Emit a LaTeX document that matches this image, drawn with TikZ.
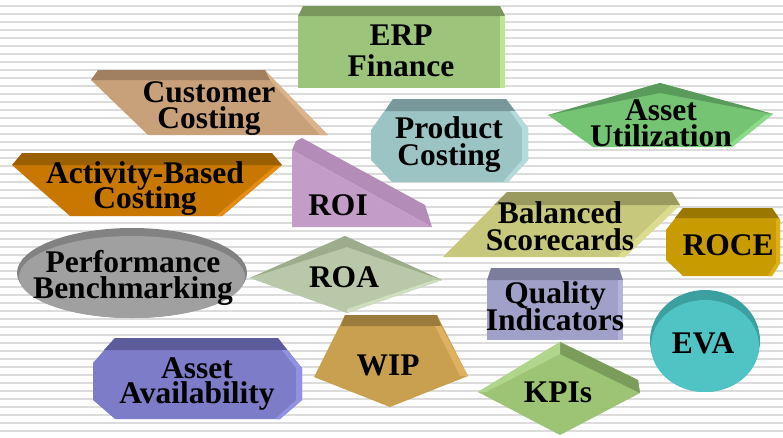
\documentclass[tikz,border=0pt]{standalone}
\usepackage{fontspec}
\setmainfont{Liberation Serif}
\newcommand\twol[3]{\vtop{\baselineskip=#1\lineskiplimit=-100pt\lineskip=0pt\halign{\hfil##\hfil\cr#2\cr#3\cr}}}
\definecolor{stripe}{RGB}{220,220,220}
\definecolor{erpF}{RGB}{156,196,122}\definecolor{erpT}{RGB}{122,152,94}\definecolor{erpL}{RGB}{190,228,150}
\definecolor{cusF}{RGB}{200,160,122}\definecolor{cusT}{RGB}{160,128,96}\definecolor{cusL}{RGB}{218,180,140}
\definecolor{actF}{RGB}{200,120,0}\definecolor{actT}{RGB}{154,96,0}\definecolor{actL}{RGB}{228,140,20}
\definecolor{proF}{RGB}{156,196,196}\definecolor{proT}{RGB}{120,152,156}\definecolor{proL}{RGB}{180,218,218}
\definecolor{utiF}{RGB}{116,196,116}\definecolor{utiT}{RGB}{90,154,90}\definecolor{utiL}{RGB}{140,218,140}
\definecolor{roiF}{RGB}{196,156,200}\definecolor{roiT}{RGB}{180,140,184}
\definecolor{balF}{RGB}{200,200,124}\definecolor{balT}{RGB}{154,154,94}\definecolor{balL}{RGB}{220,220,144}
\definecolor{rocF}{RGB}{200,156,0}\definecolor{rocT}{RGB}{154,120,0}\definecolor{rocL}{RGB}{222,176,20}
\definecolor{perF}{RGB}{160,160,160}\definecolor{perT}{RGB}{130,130,130}
\definecolor{roaF}{RGB}{184,200,168}\definecolor{roaT}{RGB}{156,172,140}\definecolor{roaL}{RGB}{206,222,190}
\definecolor{quaF}{RGB}{160,160,200}\definecolor{quaT}{RGB}{124,124,156}\definecolor{quaL}{RGB}{180,180,222}
\definecolor{evaF}{RGB}{80,196,196}\definecolor{evaT}{RGB}{60,160,160}
\definecolor{kpiF}{RGB}{156,196,116}\definecolor{kpiT}{RGB}{124,156,92}\definecolor{kpiL}{RGB}{176,214,140}
\definecolor{wipF}{RGB}{200,160,80}\definecolor{wipT}{RGB}{156,124,60}\definecolor{wipL}{RGB}{222,178,96}
\definecolor{avaF}{RGB}{124,124,200}\definecolor{avaT}{RGB}{92,92,156}\definecolor{avaL}{RGB}{146,146,226}
\begin{document}
\begin{tikzpicture}[x=1pt,y=-1pt,
  lbl/.style={font=\fontsize{31.5}{32}\selectfont\bfseries, inner sep=0pt, anchor=base, text=black}]
\clip (0,0) rectangle (783,437);
\fill[white] (0,0) rectangle (783,437);
\foreach \i in {0,...,54} \draw[line width=2pt, stripe] (0,{6+8.02*\i}) -- (783,{6+8.02*\i});

% ERP Finance
\fill[erpF] (298,16) rectangle (505,88);
\fill[erpT] (298,16) -- (303,6) -- (500,6) -- (505,16) -- cycle;
\fill[erpL] (500,16) -- (505,16) -- (505,88) -- (500,88) -- cycle;
\node[lbl] (erp) at (401,45) {\twol{31pt}{ERP}{Finance}};

% Customer Costing
\fill[cusF] (91,80) -- (272,80) -- (328,135) -- (148,135) -- cycle;
\fill[cusT] (98,70) -- (265,70) -- (272,80) -- (91,80) -- cycle;
\fill[cusL] (265,70) -- (328,135) -- (320,135) -- (270,80) -- cycle;
\node[lbl] (cus) at (209,102) {\twol{26pt}{Customer}{Costing}};

% Activity-Based Costing
\fill[actF] (12,165) -- (282,165) -- (222,216) -- (70,216) -- cycle;
\fill[actT] (22,153) -- (272,153) -- (282,165) -- (12,165) -- cycle;
\fill[actL] (282,165) -- (222,216) -- (216,216) -- (274,167) -- cycle;
\node[lbl] (act) at (145,183) {\twol{25pt}{Activity-Based}{Costing}};

% Product Costing
\fill[proF] (393,99) -- (506,99) -- (528,128) -- (528,160) -- (508,182) -- (392,182) -- (371,160) -- (371,130) -- cycle;
\fill[proT] (393,99) -- (506,99) -- (515,111) -- (385,111) -- cycle;
\fill[proL] (515,111) -- (528,128) -- (528,160) -- (508,182) -- (503,182) -- (522,160) -- (522,128) -- (510,111) -- cycle;
\node[lbl] (pro) at (449,138) {\twol{27pt}{Product}{Costing}};

% Asset Utilization
\fill[utiF] (548,115) -- (660,83) -- (773,114) -- (732,147) -- (593,147) -- cycle;
\fill[utiT] (548,115) -- (660,83) -- (773,114) -- (660,93) -- cycle;
\fill[utiL] (773,114) -- (732,147) -- (726,147) -- (765,115) -- cycle;
\node[lbl] (uti) at (661,120) {\twol{26pt}{Asset}{Utilization}};

% ROI
\fill[roiT] (292,150) -- (296,141) -- (302,138) -- (425,205) -- (432,227) -- cycle;
\fill[roiF] (292,150) -- (432,227) -- (292,227) -- cycle;
\node[lbl] (roi) at (338,215) {ROI};

% Balanced Scorecards
\fill[balF] (443,257) -- (507,192) -- (672,192) -- (680,205) -- (625,257) -- cycle;
\fill[balT] (494,205) -- (507,192) -- (672,192) -- (680,205) -- cycle;
\fill[balL] (680,205) -- (625,257) -- (617,257) -- (671,205) -- cycle;
\node[lbl] (bal) at (560,223) {\twol{27pt}{Balanced}{Scorecards}};

% ROCE
\fill[rocF] (683,208) -- (772,208) -- (780,220) -- (780,263) -- (772,276) -- (683,276) -- (666,260) -- (666,230) -- cycle;
\fill[rocT] (683,208) -- (772,208) -- (779,218) -- (675,218) -- cycle;
\fill[rocL] (779,218) -- (780,220) -- (780,263) -- (772,276) -- (768,276) -- (776,263) -- (776,220) -- cycle;
\node[lbl] (roc) at (728,255) {ROCE};

% Performance Benchmarking
\fill[perT] (132,273) ellipse [x radius=115pt, y radius=45pt];
\fill[perF] (132,277) ellipse [x radius=113pt, y radius=41pt];
\node[lbl] (per) at (133,272) {\twol{26pt}{Performance}{Benchmarking}};

% ROA
\fill[roaF] (250,278) -- (345,236) -- (442,280) -- (347,313) -- cycle;
\fill[roaT] (250,278) -- (345,236) -- (442,280) -- (347,247) -- cycle;
\fill[roaL] (442,280) -- (347,313) -- (347,309) -- (434,280) -- cycle;
\node[lbl] (roa) at (344,287) {ROA};

% Quality Indicators
\fill[quaF] (487,280) rectangle (623,340);
\fill[quaT] (487,280) -- (491,268) -- (619,268) -- (623,280) -- cycle;
\fill[quaL] (618,280) rectangle (623,340);
\node[lbl] (qua) at (555,303) {\twol{27pt}{Quality}{Indicators}};

% EVA
\fill[evaT] (705,341) ellipse [x radius=55pt, y radius=51pt];
\fill[evaF] (705,346) ellipse [x radius=54pt, y radius=46pt];
\node[lbl] (eva) at (703,353) {EVA};

% KPIs
\fill[kpiF] (478,392) -- (560,342) -- (638,380) -- (640,393) -- (560,435) -- cycle;
\fill[kpiT] (560,342) -- (638,380) -- (640,393) -- (560,354) -- cycle;
\fill[kpiL] (478,392) -- (560,342) -- (560,354) -- (486,392) -- cycle;
\node[lbl] (kpi) at (558,402) {KPIs};

% WIP
\fill[wipF] (345,315) -- (437,315) -- (468,376) -- (390,407) -- (314,377) -- cycle;
\fill[wipT] (345,315) -- (437,315) -- (441,326) -- (341,326) -- cycle;
\fill[wipL] (441,326) -- (468,376) -- (460,376) -- (435,326) -- cycle;
\node[lbl] (wip) at (388,375) {WIP};

% Asset Availability
\fill[avaF] (115,338) -- (278,338) -- (302,368) -- (302,400) -- (280,419) -- (115,419) -- (93,400) -- (93,363) -- cycle;
\fill[avaT] (115,338) -- (278,338) -- (287,350) -- (104,350) -- cycle;
\fill[avaL] (287,350) -- (302,368) -- (302,400) -- (280,419) -- (275,419) -- (296,400) -- (296,368) -- (282,350) -- cycle;
\node[lbl] (ava) at (197,378) {\twol{25pt}{Asset}{Availability}};
\end{tikzpicture}
\end{document}
